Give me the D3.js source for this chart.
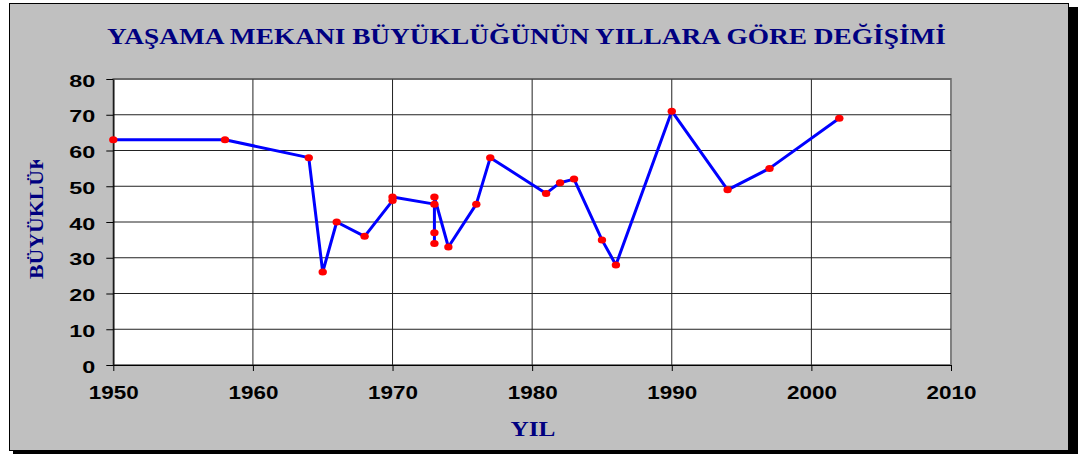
<!DOCTYPE html>
<html>
<head>
<meta charset="utf-8">
<script src="https://cdn.jsdelivr.net/npm/d3@7"></script>
<style>
  html, body { margin: 0; padding: 0; background: #ffffff; }
  svg { display: block; }
</style>
</head>
<body>
<svg id="chart" width="1078" height="454"></svg>
<script>
// Survey years and the living-space size recorded for each study
const years = [1950, 1958, 1964, 1965, 1966, 1968, 1970, 1970, 1973, 1973, 1973, 1973,
               1974, 1976, 1977, 1981, 1982, 1983, 1985, 1986, 1990, 1994, 1997, 2002];
const sizes = [63, 63, 58, 26, 40, 36, 46, 47, 45, 34, 37, 47,
               33, 45, 58, 48, 51, 52, 35, 28, 71, 49, 55, 69];

const xTicks = [1950, 1960, 1970, 1980, 1990, 2000, 2010];
const yTicks = [0, 10, 20, 30, 40, 50, 60, 70, 80];

const titleText = "YAŞAMA MEKANI BÜYÜKLÜĞÜNÜN YILLARA GÖRE DEĞİŞİMİ";
const xTitle = "YIL";
const yTitle = "BÜYÜKLÜK";

const points = years.map((yr, i) => ({ year: yr, size: sizes[i] }));

const svg = d3.select("#chart");
const navy = "#000080";

// Outer frame with drop shadow
svg.append("rect").attr("x", 13).attr("y", 7).attr("width", 1065).attr("height", 447).attr("fill", "#000");
svg.append("rect").attr("x", 9.5).attr("y", 3.5).attr("width", 1059).attr("height", 447)
  .attr("fill", "#c0c0c0").attr("stroke", "#000").attr("stroke-width", 1);

const x = d3.scaleLinear().domain([1950, 2010]).range([113.3, 951]);
const y = d3.scaleLinear().domain([0, 80]).range([365, 79]);

const [x0, x1] = x.range();
const [yb, yt] = y.range();

// Plot area
svg.append("rect").attr("x", x0).attr("y", yt).attr("width", x1 - x0).attr("height", yb - yt)
  .attr("fill", "#fff").attr("stroke", "#808080").attr("stroke-width", 2);

// Gridlines
const grid = svg.append("g").attr("stroke", "#222").attr("stroke-width", 1);
grid.selectAll("line.h").data(yTicks.filter(v => v > 0 && v < 80)).join("line")
  .attr("x1", x0).attr("x2", x1).attr("y1", d => y(d)).attr("y2", d => y(d));
grid.selectAll("line.v").data(xTicks.filter(v => v > 1950 && v < 2010)).join("line")
  .attr("y1", yt).attr("y2", yb).attr("x1", d => x(d)).attr("x2", d => x(d));
svg.append("line").attr("x1", x0).attr("x2", x1).attr("y1", yt).attr("y2", yt)
  .attr("stroke", "#555").attr("stroke-width", 1);

// Axes
const yAxis = svg.append("g").attr("transform", `translate(${x0},0)`)
  .call(d3.axisLeft(y).tickValues(yTicks).tickSize(7).tickSizeOuter(0).tickFormat(d3.format("d")));
const xAxis = svg.append("g").attr("transform", `translate(0,${yb})`)
  .call(d3.axisBottom(x).tickValues(xTicks).tickSize(6).tickSizeOuter(0).tickFormat(d3.format("d")));

[yAxis, xAxis].forEach(g => {
  g.select(".domain").attr("stroke", "#000").attr("stroke-width", 1.2);
  g.selectAll(".tick line").attr("stroke", "#000");
});

yAxis.selectAll(".tick text")
  .attr("x", -18).attr("dy", null).attr("y", 7)
  .attr("font-family", "Liberation Sans, Arial, sans-serif")
  .attr("font-weight", "bold").attr("font-size", 16.5).attr("fill", "#000")
  .attr("textLength", d => String(d).length * 13)
  .attr("lengthAdjust", "spacingAndGlyphs");

xAxis.selectAll(".tick text")
  .attr("y", 34).attr("dy", null)
  .attr("font-family", "Liberation Sans, Arial, sans-serif")
  .attr("font-weight", "bold").attr("font-size", 19).attr("fill", "#000")
  .attr("textLength", 50)
  .attr("lengthAdjust", "spacingAndGlyphs");

// Title
svg.append("text").attr("x", 107).attr("y", 43.5)
  .attr("font-family", "Liberation Serif, Times New Roman, serif")
  .attr("font-weight", "bold").attr("font-size", 22.5).attr("fill", navy)
  .attr("textLength", 839).attr("lengthAdjust", "spacingAndGlyphs")
  .text(titleText);

// Axis titles
svg.append("text").attr("x", 533).attr("y", 436).attr("text-anchor", "middle")
  .attr("font-family", "Liberation Serif, Times New Roman, serif")
  .attr("font-weight", "bold").attr("font-size", 20).attr("fill", navy)
  .attr("textLength", 45).attr("lengthAdjust", "spacingAndGlyphs")
  .text(xTitle);

svg.append("clipPath").attr("id", "yTitleClip")
  .append("rect").attr("x", 0).attr("y", 160).attr("width", 100).attr("height", 200);
svg.append("g").attr("clip-path", "url(#yTitleClip)")
  .append("text")
  .attr("transform", "translate(43,279) rotate(-90)")
  .attr("font-family", "Liberation Serif, Times New Roman, serif")
  .attr("font-weight", "bold").attr("font-size", 18).attr("fill", navy)
  .attr("textLength", 126).attr("lengthAdjust", "spacingAndGlyphs")
  .text(yTitle);

// Series line and markers
const line = d3.line().x(d => x(d.year)).y(d => y(d.size));
svg.append("path").datum(points).attr("d", line)
  .attr("fill", "none").attr("stroke", "#0000ff").attr("stroke-width", 3)
  .attr("stroke-linejoin", "round");

svg.append("g").selectAll("ellipse").data(points).join("ellipse")
  .attr("cx", d => x(d.year)).attr("cy", d => y(d.size))
  .attr("rx", 4.2).attr("ry", 3.5).attr("fill", "#ff0000");
</script>
</body>
</html>
